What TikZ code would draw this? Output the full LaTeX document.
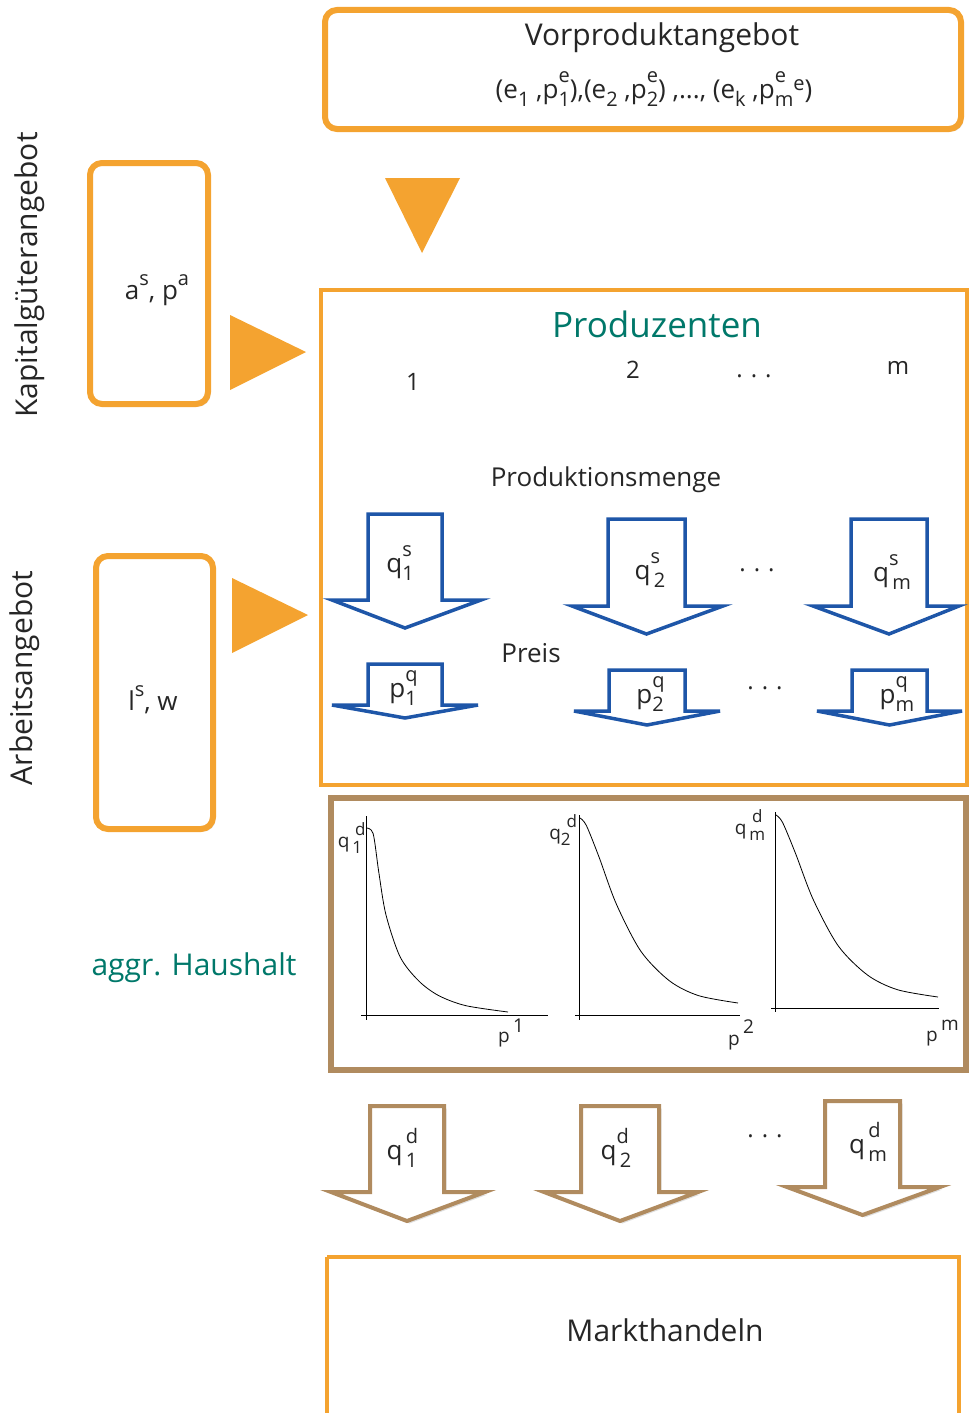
\documentclass[tikz,border=0pt]{standalone}
\usepackage{fontspec}
\setmainfont{Open Sans}
\usetikzlibrary{shadows}
\definecolor{myorange}{HTML}{F4A330}
\definecolor{myteal}{HTML}{00786A}
\definecolor{myblue}{HTML}{1E56A8}
\definecolor{mybrown}{HTML}{B08B5F}
\newcommand\sfs{\fontsize{20}{22}\selectfont}
\newcommand\sfsm{\fontsize{17}{19}\selectfont}
\newcommand\qss[3]{#1\makebox[0pt][l]{\raisebox{0.62em}{\sfs #2}}\raisebox{-0.3em}{\sfs #3}}
\newcommand\qsssm[3]{#1\makebox[0pt][l]{\raisebox{0.62em}{\sfsm #2}}\raisebox{-0.3em}{\sfsm #3}}
% block arrow: style, shaft left, shaft right, top y, head y, head left, head right, tip y
\newcommand\blockarr[8]{\draw[#1] (#2,#4) -- (#3,#4) -- (#3,#5) -- (#7,#5) -- ({(#2+#3)/2},#8) -- (#6,#5) -- (#2,#5) -- cycle;}
\newcommand\curveA[4]{% x0 y0 width height
\draw[crv] plot[smooth] coordinates {(#1,#2) ({#1+0.05*#3},{#2+0.03*#4}) ({#1+0.09*#3},{#2+0.24*#4}) ({#1+0.14*#3},{#2+0.47*#4}) ({#1+0.24*#3},{#2+0.70*#4}) ({#1+0.37*#3},{#2+0.83*#4}) ({#1+0.51*#3},{#2+0.91*#4}) ({#1+0.70*#3},{#2+0.965*#4}) ({#1+#3},{#2+#4})};}
\newcommand\curveB[4]{%
\draw[crv] plot[smooth] coordinates {(#1,#2) ({#1+0.04*#3},{#2+0.04*#4}) ({#1+0.12*#3},{#2+0.21*#4}) ({#1+0.23*#3},{#2+0.465*#4}) ({#1+0.385*#3},{#2+0.72*#4}) ({#1+0.566*#3},{#2+0.88*#4}) ({#1+0.75*#3},{#2+0.96*#4}) ({#1+#3},{#2+#4})};}
\begin{document}
\begin{tikzpicture}[x=1pt,y=-1pt,
  shad/.style={drop shadow={opacity=0.25,shadow xshift=2.5pt,shadow yshift=-2.5pt}},
  obox/.style={draw=myorange, line width=6pt, rounded corners=12pt, fill=white, shad},
  obigbox/.style={draw=myorange, line width=4pt, fill=white},
  bbox/.style={draw=mybrown, line width=6pt, fill=white, shad},
  tri/.style={fill=myorange, draw=none},
  barr/.style={draw=myblue, line width=3.5pt, fill=white, line join=miter},
  brarr/.style={draw=mybrown, line width=4pt, fill=white, line join=miter, shad},
  txt/.style={inner sep=0pt, text=black!85},
  f24/.style={font=\fontsize{24}{28}\selectfont},
  f26/.style={font=\fontsize{26}{30}\selectfont},
  f30/.style={font=\fontsize{30}{34}\selectfont},
  f18/.style={font=\fontsize{19}{21}\selectfont},
  axis/.style={draw=black, line width=0.8pt},
  crv/.style={draw=black, line width=0.8pt}
]
\useasboundingbox (0,0) rectangle (969,1413);
% top box
\draw[obox] (325,10) rectangle (961,129);
\node[txt,f30] (vorp) at (662,38) {Vorproduktangebot};
\node[txt,f26] (vorpl) at (654,89) {(e\raisebox{-0.3em}{\sfs 1} ,\qss{p}{e}{1}),(e\raisebox{-0.3em}{\sfs 2} ,\qss{p}{e}{2}) ,..., (e\raisebox{-0.3em}{\sfs k} ,\qss{p}{e}{m}\raisebox{0.3em}{\sfs e})};
% down triangle
\fill[tri] (385,178) -- (460,178) -- (422,253) -- cycle;
% Kapital box
\draw[obox] (90,163) rectangle (208,404);
\node[txt,f26] (kap) at (157,290) {a\raisebox{0.55em}{\sfs s}, p\raisebox{0.55em}{\sfs a}};
\fill[tri] (230,315) -- (230,390) -- (306,352) -- cycle;
\node[txt,f30,rotate=90] (kapl) at (30,275) {Kapitalgüterangebot};
% Arbeits box
\draw[obox] (96,556) rectangle (213,829);
\node[txt,f26] (arb) at (153,700) {l\raisebox{0.55em}{\sfs s}, w};
\fill[tri] (232,578) -- (232,653) -- (308,615) -- cycle;
\node[txt,f30,rotate=90] (arbl) at (25,678) {Arbeitsangebot};
% Produzenten box
\draw[obigbox] (321,290) rectangle (967,785);
\node[txt,font=\fontsize{35}{40}\selectfont,text=myteal] (prod) at (657,324) {Produzenten};
\node[txt,f24] (p1) at (413,382) {1};
\node[txt,f24] (p2) at (633,370) {2};
\node[txt,f24] (pd) at (754,376) {.\,\,.\,\,.};
\node[txt,f24] (pm) at (898,368) {m};
\node[txt,f26] (pmenge) at (606,480) {Produktionsmenge};
% blue supply arrows
\blockarr{barr}{368}{442}{514}{600}{332}{481}{628}
\blockarr{barr}{608}{685}{519}{606}{572}{723}{634}
\blockarr{barr}{851}{927}{519}{606}{813}{959}{634}
\node[txt,f26] (qs1) at (400,563) {\qss{q}{s}{1}};
\node[txt,f26] (qs2) at (650,570) {\qss{q}{s}{\,2}};
\node[txt,f26] (qsm) at (892,572) {\qss{q}{s}{\,m}};
\node[txt,f24] (qd) at (757,570) {.\,\,.\,\,.};
\node[txt,f26] (preis) at (531,653) {Preis};
% blue price arrows
\blockarr{barr}{368}{442}{664}{705}{332}{478}{718}
\blockarr{barr}{609}{685}{670}{711}{574}{720}{725}
\blockarr{barr}{852}{927}{670}{711}{817}{962}{725}
\node[txt,f26] (pq1) at (403,688) {\qss{p}{q}{1}};
\node[txt,f26] (pq2) at (650,694) {\qss{p}{q}{2}};
\node[txt,f26] (pqm) at (897,694) {\qss{p}{q}{m}};
\node[txt,f24] (pqd) at (765,688) {.\,\,.\,\,.};
% brown household box
\draw[bbox] (331,798) rectangle (966,1070);
\node[txt,font=\fontsize{30}{34}\selectfont,text=myteal] (hh) at (194,968) {aggr. Haushalt};
% graphs
\draw[axis] (366,816) -- (366,1020);
\draw[axis] (361,1015) -- (548,1015);
\curveA{366}{828}{142}{184}
\draw[axis] (579,815) -- (579,1020);
\draw[axis] (575,1015) -- (740,1015);
\curveB{580}{818}{158}{185}
\draw[axis] (775,812) -- (775,1012);
\draw[axis] (771,1008) -- (939,1008);
\curveB{776}{815}{162}{182}
\node[txt,f18] (gq1) at (350,838) {\qsssm{q}{\,\,d}{\,1}};
\node[txt,f18] (gq2) at (560,830) {\qsssm{q}{\,\,d}{2}};
\node[txt,f18] (gqm) at (750,825) {\qsssm{q}{\,\,d}{\,m}};
\node[txt,f18,anchor=base west] (gp1) at (498,1042) {p\raisebox{0.5em}{\,1}};
\node[txt,f18,anchor=base west] (gp2) at (728,1045) {p\raisebox{0.6em}{\,2}};
\node[txt,f18,anchor=base west] (gpm) at (926,1041) {p\raisebox{0.55em}{\,m}};
% brown demand arrows
\blockarr{brarr}{370}{444}{1106}{1192}{331}{485}{1221}
\blockarr{brarr}{581}{659}{1106}{1192}{544}{698}{1221}
\blockarr{brarr}{825}{900}{1101}{1187}{787}{940}{1215}
\node[txt,f26] (qd1) at (402,1148) {\qss{q}{\,d}{\,1}};
\node[txt,f26] (qd2) at (616,1148) {\qss{q}{d}{\,2}};
\node[txt,f26] (qdm) at (868,1142) {\qss{q}{\,d}{\,m}};
\node[txt,f24] (qdd) at (765,1136) {.\,\,.\,\,.};
% Markthandeln
\draw[obigbox] (327,1257) -- (959,1257) -- (959,1420) (327,1257) -- (327,1420);
\node[txt,f30] (markt) at (665,1330) {Markthandeln};
\end{tikzpicture}
\end{document}
